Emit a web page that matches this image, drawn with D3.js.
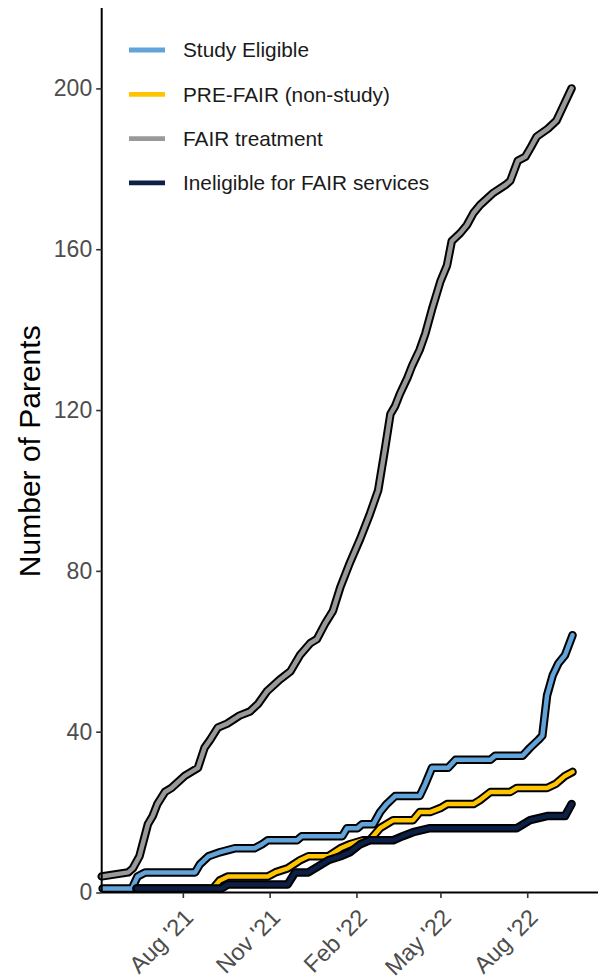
<!DOCTYPE html>
<html>
<head>
<meta charset="utf-8">
<script src="https://cdn.jsdelivr.net/npm/d3@7"></script>
<style>
  html, body { margin: 0; padding: 0; background: #fff; }
  svg { display: block; }
</style>
</head>
<body>
<svg id="chart" width="598" height="980"></svg>
<script>
// ---------- DATA ----------
const seriesNames = ["Study Eligible", "PRE-FAIR (non-study)", "FAIR treatment", "Ineligible for FAIR services"];
const seriesColors = ["#62a3d9", "#ffc400", "#999999", "#0c1f47"];

const studyDates = ["2021-05-08","2021-06-08","2021-06-14","2021-06-22","2021-08-14","2021-08-19","2021-08-28","2021-09-09","2021-09-25","2021-10-16","2021-10-24","2021-10-30","2021-11-30","2021-12-05","2022-01-17","2022-01-22","2022-02-02","2022-02-07","2022-02-19","2022-02-26","2022-03-05","2022-03-14","2022-04-09","2022-04-15","2022-04-22","2022-05-09","2022-05-17","2022-06-23","2022-06-28","2022-07-27","2022-08-04","2022-08-13","2022-08-17","2022-08-22","2022-08-28","2022-09-03","2022-09-10","2022-09-18"];
const studyValues = [1,1,4,5,5,7,9,10,11,11,12,13,13,14,14,16,16,17,17,20,22,24,24,27,31,31,33,33,34,34,36,38,39,49,54,57,59,64];

const preDates = ["2021-06-13","2021-09-02","2021-09-09","2021-09-18","2021-10-30","2021-11-07","2021-11-20","2021-12-03","2021-12-12","2022-01-02","2022-01-15","2022-01-25","2022-02-08","2022-02-15","2022-02-26","2022-03-12","2022-04-02","2022-04-09","2022-04-20","2022-05-01","2022-05-08","2022-06-05","2022-06-12","2022-06-23","2022-07-14","2022-07-21","2022-08-22","2022-08-31","2022-09-10","2022-09-18"];
const preValues = [1,1,3,4,4,5,6,8,9,9,11,12,13,13,16,18,18,20,20,21,22,22,23,25,25,26,26,27,29,30];

const fairDates = ["2021-05-07","2021-06-04","2021-06-09","2021-06-16","2021-06-25","2021-06-30","2021-07-05","2021-07-13","2021-07-20","2021-08-03","2021-08-17","2021-08-24","2021-08-30","2021-09-07","2021-09-17","2021-09-30","2021-10-11","2021-10-20","2021-10-29","2021-11-12","2021-11-23","2021-12-03","2021-12-14","2021-12-21","2021-12-30","2022-01-07","2022-01-15","2022-01-25","2022-02-05","2022-02-15","2022-02-24","2022-03-03","2022-03-09","2022-03-14","2022-03-19","2022-03-27","2022-04-01","2022-04-09","2022-04-15","2022-04-22","2022-05-01","2022-05-08","2022-05-13","2022-05-22","2022-05-29","2022-06-05","2022-06-12","2022-06-26","2022-07-09","2022-07-14","2022-07-22","2022-07-30","2022-08-04","2022-08-11","2022-08-23","2022-09-01","2022-09-07","2022-09-17"];
const fairValues = [4,5,6,9,17,19,22,25,26,29,31,36,38,41,42,44,45,47,50,53,55,59,62,63,67,70,76,82,88,94,100,110,119,121,124,128,131,135,139,145,152,156,162,164,166,169,171,174,176,177,182,183,185,188,190,192,195,200];

const inelDates = ["2021-06-13","2021-09-11","2021-09-18","2021-11-20","2021-11-28","2021-12-12","2021-12-19","2022-01-02","2022-01-15","2022-01-25","2022-02-05","2022-02-15","2022-03-12","2022-03-22","2022-04-02","2022-04-20","2022-07-21","2022-08-04","2022-08-22","2022-09-10","2022-09-17"];
const inelValues = [1,1,2,2,5,5,6,8,9,10,12,13,13,14,15,16,16,18,19,19,22];

const yTicks = [0, 40, 80, 120, 160, 200];
const xTickDates = ["2021-08-01","2021-11-01","2022-02-01","2022-05-01","2022-08-01"];
const xTickLabels = ["Aug '21","Nov '21","Feb '22","May '22","Aug '22"];
const xDomain = ["2021-05-07","2022-10-15"];
const yDomain = [0, 220];
const yLabel = "Number of Parents";

// ---------- CHART ----------
(function () {
const parse = d3.utcParse("%Y-%m-%d");
const svg = d3.select("#chart");
const pL = 101.7, pR = 598, pT = 8, pB = 892.5;
const font = "Liberation Sans, Arial, sans-serif";

const x = d3.scaleUtc().domain(xDomain.map(parse)).range([pL, pR]);
const y = d3.scaleLinear().domain(yDomain).range([pB, pT]);

const series = [
  {name: seriesNames[0], color: seriesColors[0], dates: studyDates, values: studyValues},
  {name: seriesNames[1], color: seriesColors[1], dates: preDates, values: preValues},
  {name: seriesNames[2], color: seriesColors[2], dates: fairDates, values: fairValues},
  {name: seriesNames[3], color: seriesColors[3], dates: inelDates, values: inelValues}
].map(s => ({...s, pts: s.dates.map((d, i) => ({date: parse(d), value: s.values[i]}))}));

const line = d3.line().x(d => x(d.date)).y(d => y(d.value)).curve(d3.curveLinear);

const g = svg.append("g");
series.forEach(s => {
  g.append("path").datum(s.pts).attr("d", line)
    .attr("fill", "none").attr("stroke", "#000").attr("stroke-width", 8.5)
    .attr("stroke-linejoin", "round").attr("stroke-linecap", "round");
  g.append("path").datum(s.pts).attr("d", line)
    .attr("fill", "none").attr("stroke", s.color).attr("stroke-width", 4.5)
    .attr("stroke-linejoin", "round").attr("stroke-linecap", "round");
});

// Axes
const yAxis = svg.append("g").attr("transform", `translate(${pL},0)`)
  .call(d3.axisLeft(y).tickValues(yTicks).tickSize(5.5).tickPadding(4));
yAxis.select(".domain").attr("d", `M0,${pT}V${pB}`).attr("stroke", "#000").attr("stroke-width", 2);
yAxis.selectAll(".tick line").attr("stroke", "#333").attr("stroke-width", 1.6);
yAxis.selectAll(".tick text").attr("fill", "#4d4d4d").attr("font-size", 23)
  .attr("font-family", font);

const xAxis = svg.append("g").attr("transform", `translate(0,${pB})`)
  .call(d3.axisBottom(x).tickValues(xTickDates.map(parse)).tickSize(5.5)
    .tickFormat((d, i) => xTickLabels[i]));
xAxis.select(".domain").attr("d", `M${pL},0H${pR}`).attr("stroke", "#000").attr("stroke-width", 2);
xAxis.selectAll(".tick line").attr("stroke", "#333").attr("stroke-width", 1.6);
xAxis.selectAll(".tick text").attr("fill", "#4d4d4d").attr("font-size", 23.5)
  .attr("font-family", font)
  .attr("text-anchor", "end").attr("y", 0).attr("dy", 0)
  .attr("transform", "translate(11.5,26.5) rotate(-45)");

// Y label
svg.append("text")
  .attr("transform", `translate(40,${(pT + pB) / 2 + 1}) rotate(-90)`)
  .attr("text-anchor", "middle")
  .attr("font-family", font)
  .attr("font-size", 30).attr("fill", "#000")
  .text(yLabel);

// Legend
const legend = svg.append("g");
series.forEach((s, i) => {
  const ly = 50 + i * 44.3;
  legend.append("line").attr("x1", 129).attr("x2", 165).attr("y1", ly).attr("y2", ly)
    .attr("stroke", s.color).attr("stroke-width", 4.8);
  legend.append("text").attr("x", 183).attr("y", ly).attr("dy", "0.35em")
    .attr("font-family", font)
    .attr("font-size", 20.8).attr("fill", "#1a1a1a").text(s.name);
});
})();
</script>
</body>
</html>
